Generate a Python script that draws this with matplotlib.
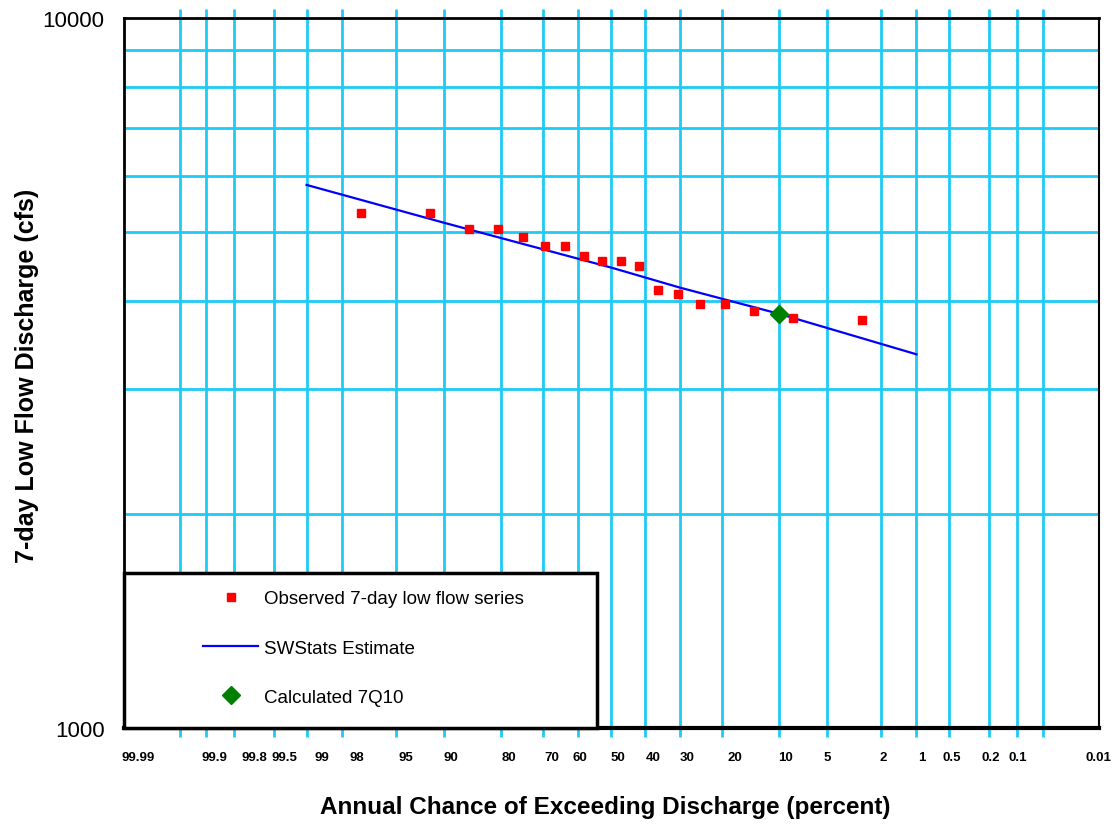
import math
import numpy as np
import matplotlib
matplotlib.use("Agg")
import matplotlib.pyplot as plt
from matplotlib.transforms import ScaledTranslation, blended_transform_factory
from matplotlib.lines import Line2D
from matplotlib.patches import Rectangle

plt.rcParams['font.family'] = ['Liberation Sans', 'DejaVu Sans']

# ---------------- data ----------------
obs_pct = [97.2, 91.7, 86.1, 80.6, 75.0, 69.4, 63.9, 58.3, 52.8, 47.2,
           41.7, 36.1, 30.6, 25.0, 19.4, 13.9, 8.3, 2.8]
obs_cfs = [5320, 5320, 5040, 5040, 4910, 4770, 4770, 4620, 4550, 4550,
           4480, 4140, 4080, 3950, 3950, 3870, 3780, 3760]
est_pct = [99, 90, 50, 30, 10, 1]
est_cfs = [5820, 5150, 4450, 4170, 3830, 3360]
q10_pct = [10]
q10_cfs = [3830]

tick_pct = [99.95, 99.9, 99.8, 99.5, 99, 98, 95, 90, 80, 70, 60, 50, 40, 30,
            20, 10, 5, 2, 1, 0.5, 0.2, 0.1, 0.05]
label_pct = [99.99, 99.9, 99.8, 99.5, 99, 98, 95, 90, 80, 70, 60, 50, 40, 30,
             20, 10, 5, 2, 1, 0.5, 0.2, 0.1, 0.01]
label_txt = ["99.99", "99.9", "99.8", "99.5", "99", "98", "95", "90", "80", "70",
             "60", "50", "40", "30", "20", "10", "5", "2", "1", "0.5", "0.2",
             "0.1", "0.01"]
# small horizontal nudges (pixels) of the printed labels, as in the original
label_dx = [14, 8, 20, 11, 15, 15, 10, 7, 8, 9, 2, 6, 8, 7, 13, 6, 0, 2, 5, 3, 2, 1, -1]


# ---------------- normal probability scale ----------------
def _ppf(q):
    q = np.atleast_1d(np.asarray(q, dtype=float))
    q = np.clip(q, 1e-12, 1 - 1e-12)
    a = [-3.969683028665376e+01, 2.209460984245205e+02, -2.759285104469687e+02,
         1.383577518672690e+02, -3.066479806614716e+01, 2.506628277459239e+00]
    b = [-5.447609879822406e+01, 1.615858368580409e+02, -1.556989798598866e+02,
         6.680131188771972e+01, -1.328068155288572e+01]
    c = [-7.784894002430293e-03, -3.223964580411365e-01, -2.400758277161838e+00,
         -2.549732539343734e+00, 4.374664141464968e+00, 2.938163982698783e+00]
    d = [7.784695709041462e-03, 3.224671290700398e-01, 2.445134137142996e+00,
         3.754408661907416e+00]
    plow = 0.02425
    out = np.empty_like(q)
    lo = q < plow
    hi = q > 1 - plow
    mid = ~(lo | hi)
    ql = np.sqrt(-2 * np.log(q[lo]))
    out[lo] = (((((c[0]*ql+c[1])*ql+c[2])*ql+c[3])*ql+c[4])*ql+c[5]) / \
              ((((d[0]*ql+d[1])*ql+d[2])*ql+d[3])*ql+1)
    qh = np.sqrt(-2 * np.log(1 - q[hi]))
    out[hi] = -(((((c[0]*qh+c[1])*qh+c[2])*qh+c[3])*qh+c[4])*qh+c[5]) / \
               ((((d[0]*qh+d[1])*qh+d[2])*qh+d[3])*qh+1)
    qm = q[mid] - 0.5
    r = qm * qm
    out[mid] = (((((a[0]*r+a[1])*r+a[2])*r+a[3])*r+a[4])*r+a[5])*qm / \
               (((((b[0]*r+b[1])*r+b[2])*r+b[3])*r+b[4])*r+1)
    return out


_erf = np.vectorize(math.erf)


def forward(p):
    # increasing in p: standard normal quantile of p percent
    return _ppf(np.asarray(p, dtype=float) / 100.0)


def inverse(z):
    z = np.atleast_1d(np.asarray(z, dtype=float))
    return 100.0 * 0.5 * (1 + _erf(z / math.sqrt(2)))


# ---------------- figure ----------------
W, H, DPI = 1116, 829, 100
fig = plt.figure(figsize=(W / DPI, H / DPI), dpi=DPI)
fig.patch.set_facecolor('white')
ax = fig.add_axes([124 / W, 1 - 729 / H, 975 / W, 710 / H])

grid_c = '#1ECBF7'

ax.set_xscale('function', functions=(forward, inverse))
ax.set_yscale('log')
ax.set_xlim(99.99, 0.01)
ax.set_ylim(1000, 10000)

# vertical grid / ticks
ax.set_xticks(tick_pct)
ax.set_xticklabels([])
ax.xaxis.set_minor_locator(matplotlib.ticker.NullLocator())
ax.tick_params(axis='x', which='major', direction='out', length=6.5, width=2,
               color=grid_c, top=True, bottom=True)
ax.grid(True, axis='x', which='major', color=grid_c, linewidth=2)

# horizontal grid
ax.set_yticks([1000, 10000])
ax.set_yticklabels(['1000', '10000'], fontsize=16)
ax.set_yticks([2000, 3000, 4000, 5000, 6000, 7000, 8000, 9000], minor=True)
ax.yaxis.set_minor_formatter(matplotlib.ticker.NullFormatter())
ax.tick_params(axis='y', which='both', length=0, pad=14)
ax.grid(True, axis='y', which='minor', color=grid_c, linewidth=2)
ax.set_axisbelow(True)

for side, lw in [('left', 2), ('top', 2), ('bottom', 3), ('right', 1.5)]:
    ax.spines[side].set_color('black')
    ax.spines[side].set_linewidth(lw)
    ax.spines[side].set_zorder(6)

# x tick labels (printed slightly offset, as in the source chart)
btrans = blended_transform_factory(ax.transData, ax.transAxes)
for p, t, dx in zip(label_pct, label_txt, label_dx):
    ax.text(p, 0, t, transform=btrans + ScaledTranslation(dx / DPI, -29 / DPI, fig.dpi_scale_trans),
            ha='center', va='center', fontsize=9.5, fontweight='bold')

# data
ax.plot(est_pct, est_cfs, color='#0000FF', linewidth=1.6, zorder=3,
        label='SWStats Estimate')
ax.plot(obs_pct, obs_cfs, linestyle='none', marker='s', markersize=6,
        color='#FF0000', zorder=4, label='Observed 7-day low flow series')
ax.plot(q10_pct, q10_cfs, linestyle='none', marker='D', markersize=9,
        color='#008000', zorder=5, label='Calculated 7Q10')

# legend box
ax.add_patch(Rectangle((0, 0), 473 / 975, 155 / 710, transform=ax.transAxes,
                       facecolor='white', edgecolor='black', linewidth=2.5,
                       zorder=7, clip_on=False))
handles = [
    Line2D([], [], linestyle='none', marker='s', markersize=6, color='#FF0000'),
    Line2D([], [], color='#0000FF', linewidth=1.6),
    Line2D([], [], linestyle='none', marker='D', markersize=9, color='#008000'),
]
labels = ['Observed 7-day low flow series', 'SWStats Estimate', 'Calculated 7Q10']
leg = ax.legend(handles, labels, loc='upper left',
                bbox_to_anchor=((203 - 124) / 975, (729 - 591) / 710),
                frameon=False, fontsize=13.5, handlelength=2.95,
                handletextpad=0.3, labelspacing=1.72, borderpad=0.0,
                borderaxespad=0.0)
leg.set_zorder(8)

fig.text(605 / W, 1 - 808 / H, 'Annual Chance of Exceeding Discharge (percent)',
         ha='center', va='center', fontsize=17.5, fontweight='bold')
fig.text(27 / W, 1 - 376 / H, '7-day Low Flow Discharge (cfs)', rotation=90,
         ha='center', va='center', fontsize=18, fontweight='bold')

fig.savefig('out.png', dpi=DPI, facecolor='white')
